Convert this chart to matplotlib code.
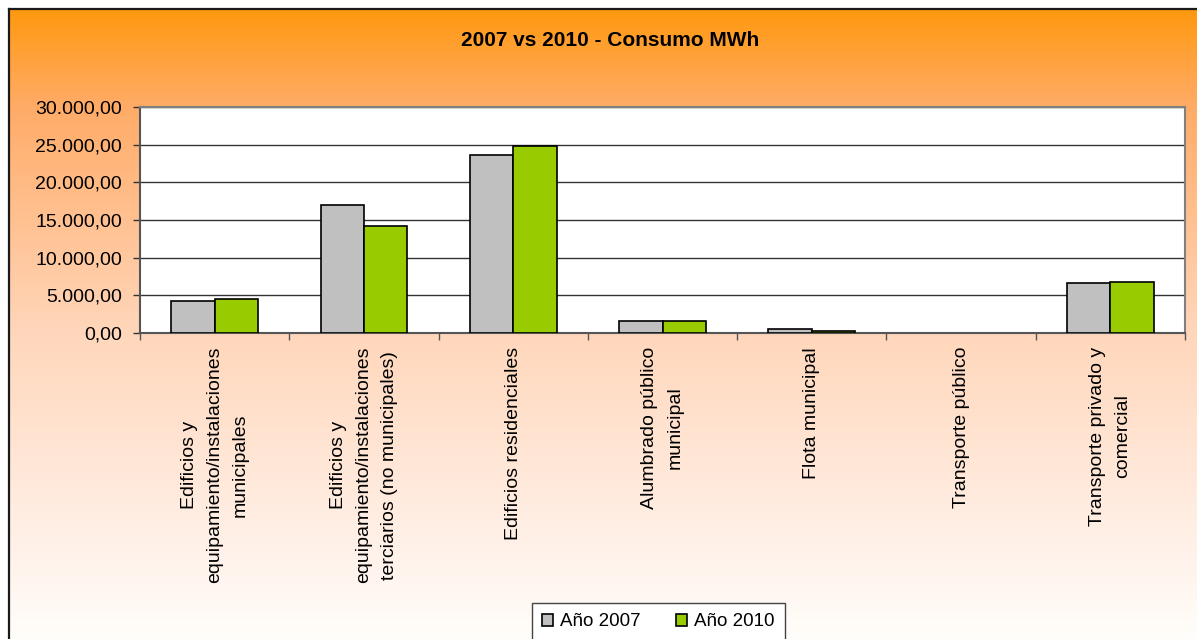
import matplotlib
matplotlib.use("Agg")
import matplotlib.pyplot as plt
import numpy as np
from matplotlib.colors import LinearSegmentedColormap
from matplotlib.patches import Patch
from matplotlib.ticker import FuncFormatter, FixedLocator

plt.rcParams['font.family'] = ['Liberation Sans', 'DejaVu Sans']

# data (MWh)
categories = [
    "Edificios y\nequipamiento/instalaciones\nmunicipales",
    "Edificios y\nequipamiento/instalaciones\nterciarios (no municipales)",
    "Edificios residenciales",
    "Alumbrado público\nmunicipal",
    "Flota municipal",
    "Transporte público",
    "Transporte privado y\ncomercial",
]
consumo_2007 = [4300, 17000, 23600, 1640, 490, 0, 6600]
consumo_2010 = [4500, 14200, 24800, 1640, 300, 0, 6800]
series_labels = ["Año 2007", "Año 2010"]
yticks = [0, 5000, 10000, 15000, 20000, 25000, 30000]

W, H = 1197, 639
fig = plt.figure(figsize=(W / 100, H / 100), dpi=100)
fig.patch.set_facecolor("white")

# orange -> white gradient background with a dark frame on top/left
bg = fig.add_axes([9 / W, 0, 1 - 9 / W, (H - 9) / H], zorder=-1)
grad_cmap = LinearSegmentedColormap.from_list("bg", [
    (0.00, (1.00, 0.60, 0.06)),
    (0.15, (1.00, 0.67, 0.40)),
    (0.51, (1.00, 0.84, 0.73)),
    (0.87, (1.00, 0.95, 0.92)),
    (1.00, (1.00, 0.995, 0.98)),
])
bg.imshow(np.linspace(0, 1, 256).reshape(-1, 1), aspect="auto", cmap=grad_cmap,
          extent=[0, 1, 0, 1], origin="upper")
bg.set_xticks([])
bg.set_yticks([])
for side in ["right", "bottom"]:
    bg.spines[side].set_visible(False)
for side in ["top", "left"]:
    bg.spines[side].set_color("#1a1a1a")
    bg.spines[side].set_linewidth(1.6)

ax = fig.add_axes([140 / W, 1 - 333 / H, (1185 - 140) / W, (333 - 107) / H])
ax.set_facecolor("white")

x = np.arange(len(categories))
w = 0.29
# no outline for empty bars
lw07 = [1.2 if v > 0 else 0 for v in consumo_2007]
lw10 = [1.2 if v > 0 else 0 for v in consumo_2010]
ax.bar(x - w / 2, consumo_2007, w, color="#C0C0C0", edgecolor="black",
       linewidth=lw07, zorder=3)
ax.bar(x + w / 2, consumo_2010, w, color="#99CC00", edgecolor="black",
       linewidth=lw10, zorder=3)

ax.set_xlim(-0.5, len(categories) - 0.5)
ax.set_ylim(0, 30000)
ax.set_yticks(yticks)


def fmt_es(v, pos):
    s = f"{v:,.2f}"
    return s.replace(",", "X").replace(".", ",").replace("X", ".")


ax.yaxis.set_major_formatter(FuncFormatter(fmt_es))
ax.grid(axis="y", color="#333333", linewidth=1.0, zorder=1)
ax.set_axisbelow(True)

ax.set_xticks(x)
ax.set_xticklabels(categories, rotation=90, ha="center", va="top",
                   multialignment="center", linespacing=1.65, fontsize=14)
ax.xaxis.set_minor_locator(FixedLocator(np.arange(-0.5, len(categories), 1.0)))
ax.tick_params(axis="x", which="major", length=0, pad=10)
ax.tick_params(axis="x", which="minor", length=5, width=1, color="#555555",
               direction="out")
ax.tick_params(axis="y", length=5, width=1, color="#333333", pad=8,
               labelsize=14)

for side in ax.spines.values():
    side.set_color("#808080")
    side.set_linewidth(1.5)
ax.spines["bottom"].set_color("#555555")
ax.spines["left"].set_color("#555555")

fig.text(610 / W, 1 - 40 / H, "2007 vs 2010 - Consumo MWh", ha="center",
         va="center", fontsize=15, fontweight="bold")

handles = [Patch(facecolor="#C0C0C0", edgecolor="black", linewidth=1.2),
           Patch(facecolor="#99CC00", edgecolor="black", linewidth=1.2)]
leg = fig.legend(handles, series_labels, loc="upper center", ncol=2,
                 bbox_to_anchor=(658 / W, 1 - 603 / H),
                 bbox_transform=fig.transFigure, fontsize=13.5,
                 handlelength=0.6, handleheight=0.6, handletextpad=0.35,
                 columnspacing=1.9, borderpad=0.55, borderaxespad=0,
                 fancybox=False, frameon=True)
leg.get_frame().set_edgecolor("#444444")
leg.get_frame().set_linewidth(1.0)
leg.get_frame().set_facecolor("white")
leg.get_frame().set_alpha(1)

fig.savefig("out.png", dpi=100)
